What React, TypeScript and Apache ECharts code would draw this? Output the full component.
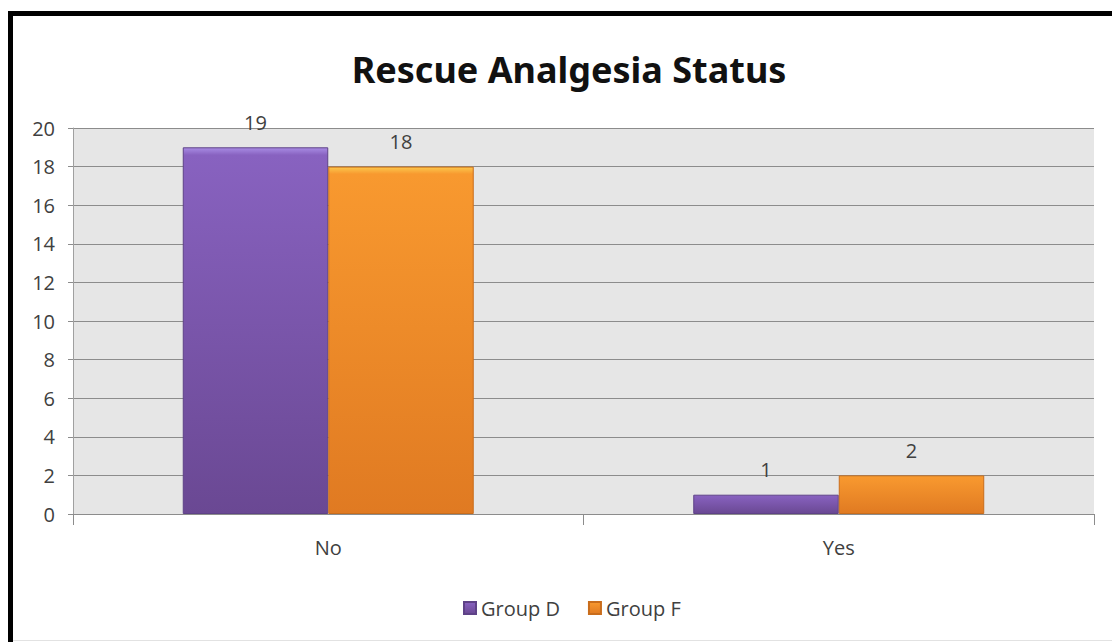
import React, { useEffect, useRef } from "react";
import * as echarts from "echarts";

const categories = ["No", "Yes"];
const groupDValues = [19, 1];
const groupFValues = [18, 2];
const seriesNames = ["Group D", "Group F"];
const yMin = 0;
const yMax = 20;
const yStep = 2;

const textColor = "#404040";
const uiFont = "'Open Sans', 'Noto Sans', sans-serif";

const purpleFill = new echarts.graphic.LinearGradient(0, 0, 0, 1, [
  { offset: 0, color: "#a98ce4" },
  { offset: 0.02, color: "#8862c0" },
  { offset: 1, color: "#6a4893" },
]);
const orangeFill = new echarts.graphic.LinearGradient(0, 0, 0, 1, [
  { offset: 0, color: "#fcc84e" },
  { offset: 0.02, color: "#f8992f" },
  { offset: 1, color: "#e07a22" },
]);

export default function App() {
  const ref = useRef<HTMLDivElement>(null);

  useEffect(() => {
    if (!ref.current) return;
    const chart = echarts.init(ref.current, undefined, { renderer: "svg" });
    const barLabel = {
      show: true,
      position: "top",
      distance: 15,
      fontFamily: uiFont,
      fontSize: 20,
      color: textColor,
    };
    chart.setOption({
      animation: false,
      backgroundColor: "#ffffff",
      title: {
        text: "Rescue Analgesia Status",
        left: 564,
        top: 46,
        textAlign: "center",
        textStyle: {
          fontFamily: "'Noto Sans', sans-serif",
          fontWeight: "bold",
          fontSize: 36,
          color: "#111111",
        },
      },
      legend: {
        data: seriesNames,
        left: 458,
        top: 593,
        icon: "rect",
        itemWidth: 12,
        itemHeight: 12,
        itemGap: 28,
        textStyle: { fontFamily: uiFont, fontSize: 20, color: textColor },
      },
      grid: {
        left: 73,
        right: 18,
        top: 128,
        bottom: 128,
        show: true,
        backgroundColor: "#e6e6e6",
        borderWidth: 0,
      },
      xAxis: {
        type: "category",
        data: categories,
        axisLine: { show: true, lineStyle: { color: "#8c8c8c", width: 1 } },
        axisTick: {
          show: true,
          alignWithLabel: false,
          length: 11,
          lineStyle: { color: "#8c8c8c" },
        },
        axisLabel: {
          margin: 23,
          fontFamily: uiFont,
          fontSize: 20,
          color: textColor,
        },
      },
      yAxis: {
        type: "value",
        min: yMin,
        max: yMax,
        interval: yStep,
        axisLine: { show: true, lineStyle: { color: "#a0a0a0", width: 1 } },
        axisTick: { show: true, length: 5, lineStyle: { color: "#8c8c8c" } },
        splitLine: { show: true, lineStyle: { color: "#8c8c8c", width: 1 } },
        axisLabel: {
          margin: 18,
          fontFamily: uiFont,
          fontSize: 20,
          color: textColor,
        },
      },
      series: [
        {
          name: seriesNames[0],
          type: "bar",
          data: groupDValues,
          barGap: "0%",
          barCategoryGap: "43%",
          itemStyle: { color: purpleFill, borderColor: "#5e4287", borderWidth: 1 },
          label: barLabel,
        },
        {
          name: seriesNames[1],
          type: "bar",
          data: groupFValues,
          barGap: "0%",
          barCategoryGap: "43%",
          itemStyle: { color: orangeFill, borderColor: "#c96d1c", borderWidth: 1 },
          label: barLabel,
        },
      ],
      graphic: [
        {
          type: "rect",
          silent: true,
          shape: { x: 10.5, y: 13.5, width: 1200, height: 700 },
          style: { fill: "none", stroke: "#000000", lineWidth: 5 },
        },
        {
          type: "line",
          silent: true,
          shape: { x1: 13, y1: 640.5, x2: 1112, y2: 640.5 },
          style: { stroke: "#e2e2e2", lineWidth: 1 },
        },
      ],
    });
    return () => chart.dispose();
  }, []);

  return (
    <div
      ref={ref}
      style={{ position: "fixed", left: 0, top: 0, width: 1112, height: 642 }}
    />
  );
}
